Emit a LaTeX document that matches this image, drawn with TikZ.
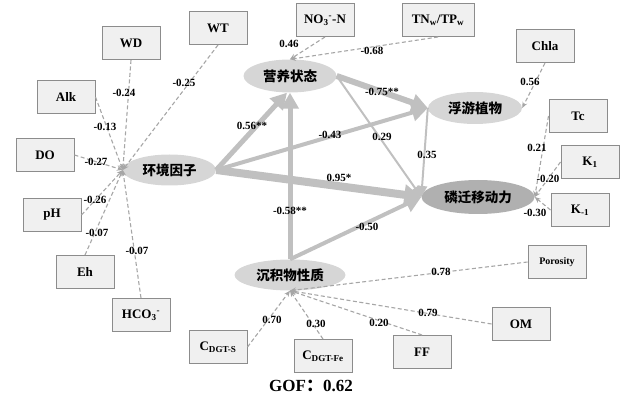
\documentclass[tikz,border=0pt]{standalone}
\usepackage{fontspec}
\setmainfont{Liberation Serif}
\newfontfamily\cjk{Noto Sans CJK SC}
\usetikzlibrary{arrows.meta,shapes.geometric}
\definecolor{ellfill}{HTML}{D6D6D6}
\definecolor{ellfillD}{HTML}{B0B0B0}
\definecolor{boxfill}{HTML}{F0F0F0}
\definecolor{boxdraw}{HTML}{8C8C8C}
\definecolor{dashc}{HTML}{A6A6A6}
\definecolor{pathc}{HTML}{C0C0C0}
\begin{document}
\begin{tikzpicture}[x=1pt,y=-1pt,
 box/.style={draw=boxdraw,fill=boxfill,line width=1pt,minimum width=58pt,minimum height=33pt,inner sep=0pt,font=\bfseries\fontsize{13}{13}\selectfont},
 ell/.style={ellipse,fill=ellfill,inner sep=0pt,font=\cjk\bfseries\fontsize{13.5}{13.5}\selectfont},
 dl/.style={draw=dashc,line width=1.1pt,dash pattern=on 4pt off 2.5pt,-{Stealth[length=6pt,width=5pt]}},
 lab/.style={font=\bfseries\fontsize{11}{11}\selectfont,inner sep=0pt},
 pa/.style={draw=pathc,-{Triangle[length=16pt,width=17pt]}},
]
\useasboundingbox (0,0) rectangle (621,403);
% ellipses
\node[ell,minimum width=93pt,minimum height=31pt] (E) at (169.5,170) {环境因子};
\node[ell,minimum width=93pt,minimum height=33pt] (T) at (290,76) {营养状态};
\node[ell,minimum width=94pt,minimum height=32pt] (P) at (475,108) {浮游植物};
\node[ell,fill=ellfillD,minimum width=113pt,minimum height=34pt] (M) at (478,197) {磷迁移动力};
\node[ell,minimum width=111pt,minimum height=31pt] (S) at (290,275) {沉积物性质};
% boxes
\node[box] (WD) at (131,43) {WD};
\node[box] (WT) at (218,28) {WT};
\node[box] (Alk) at (66,97) {Alk};
\node[box] (DO) at (45,155) {DO};
\node[box] (pH) at (52,215) {pH};
\node[box] (Eh) at (85,272) {Eh};
\node[box] (HCO) at (141,315) {HCO\textsubscript{3}\textsuperscript{-}};
\node[box] (NO) at (325,20) {NO\textsubscript{3}\textsuperscript{-}-N};
\node[box,minimum width=72pt] (TN) at (438,20) {TN\textsubscript{w}/TP\textsubscript{w}};
\node[box] (Chla) at (545,46) {Chla};
\node[box] (Tc) at (578,116) {Tc};
\node[box] (K1) at (590,162) {K\textsubscript{1}};
\node[box] (Km) at (580,210) {K\textsubscript{-1}};
\node[box,font=\bfseries\fontsize{10}{10}\selectfont] (Por) at (557,262) {Porosity};
\node[box] (OM) at (521,324) {OM};
\node[box] (FF) at (422,352) {FF};
\node[box] (CFe) at (323,356) {C\textsubscript{DGT-Fe}};
\node[box] (CS) at (218,347) {C\textsubscript{DGT-S}};
% dashed indicator lines
\draw[dl] (WD.south) -- (E.west);
\draw[dl] (WT.south) -- (E.west);
\draw[dl] (Alk.east) -- (E.west);
\draw[dl] (DO.east) -- (E.west);
\draw[dl] (pH.east) -- (E.west);
\draw[dl] (Eh.north) -- (E.west);
\draw[dl] (HCO.north) -- (E.west);
\draw[dl] (NO.south) -- (T.north);
\draw[dl] (TN.south) -- (T.north);
\draw[dl] (Chla.south) -- (P.east);
\draw[dl] (Tc.west) -- (M.east);
\draw[dl] (K1.west) -- (M.east);
\draw[dl] (Km.west) -- (M.east);
\draw[dl] (Por.west) -- (S.south);
\draw[dl] (OM.west) -- (S.south);
\draw[dl] (FF.north) -- (S.south);
\draw[dl] (CFe.north) -- (S.south);
\draw[dl] (CS.east) -- (S.south);
% structural paths
\draw[pa,line width=5pt] (E.east) -- ([xshift=-3pt]T.south);
\draw[pa,line width=4pt] (E.east) -- (P.west);
\draw[pa,line width=8pt,-{Triangle[length=17pt,width=20pt]}] (E.east) -- (M.west);
\draw[pa,line width=6pt] (T.east) -- (P.west);
\draw[pa,line width=2pt,-{Triangle[length=11pt,width=10pt]}] (T.east) -- (M.west);
\draw[pa,line width=2pt,-{Triangle[length=11pt,width=10pt]}] (P.west) -- (M.west);
\draw[pa,line width=5pt] (S.north) -- (T.south);
\draw[pa,line width=4pt] (S.north) -- (M.west);
% labels
\node[lab] (l1) at (124,93) {-0.24};
\node[lab] (l2) at (184,83) {-0.25};
\node[lab] (l3) at (105,127) {-0.13};
\node[lab] (l4) at (96,162) {-0.27};
\node[lab] (l5) at (95,200) {-0.26};
\node[lab] (l6) at (97,233) {-0.07};
\node[lab] (l7) at (137,251) {-0.07};
\node[lab] (l8) at (289,44) {0.46};
\node[lab] (l9) at (372,51) {-0.68};
\node[lab] (l10) at (530,82) {0.56};
\node[lab] (l11) at (537,148) {0.21};
\node[lab] (l12) at (548,179) {-0.20};
\node[lab] (l13) at (535,213) {-0.30};
\node[lab] (l14) at (441,272) {0.78};
\node[lab] (l15) at (428,313) {0.79};
\node[lab] (l16) at (379,323) {0.20};
\node[lab] (l17) at (316,324) {0.30};
\node[lab] (l18) at (272,320) {0.70};
\node[lab] (l19) at (252,126) {0.56**};
\node[lab] (l20) at (330,135) {-0.43};
\node[lab] (l21) at (382,92) {-0.75**};
\node[lab] (l22) at (382,137) {0.29};
\node[lab] (l23) at (427,155) {0.35};
\node[lab] (l24) at (339,178) {0.95*};
\node[lab] (l25) at (290,211) {-0.58**};
\node[lab] (l26) at (367,227) {-0.50};
\node[font=\bfseries\fontsize{17}{17}\selectfont,inner sep=0pt] (gof) at (311,386) {GOF{\cjk\bfseries ：}0.62};
\end{tikzpicture}
\end{document}
